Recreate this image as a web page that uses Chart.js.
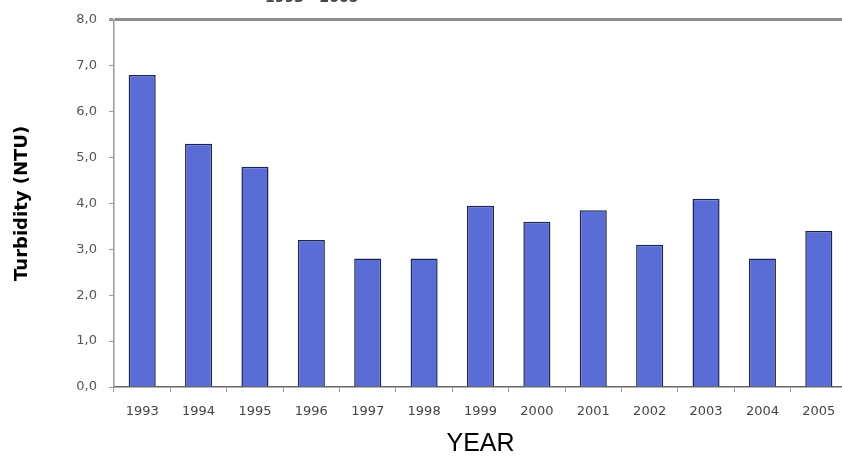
<!DOCTYPE html>
<html>
<head>
<meta charset="utf-8">
<script src="https://cdn.jsdelivr.net/npm/chart.js@4.4.0/dist/chart.umd.min.js"></script>
<style>
  html, body { margin: 0; padding: 0; background: #fff; overflow: hidden; }
  #wrap { position: relative; width: 842px; height: 459px; overflow: hidden; }
  #box { position: absolute; left: 0; top: 0; width: 848px; height: 459px; }
  #title { position: absolute; left: 265px; top: -11px; font: bold 14px "DejaVu Sans", sans-serif; color: #444; }
</style>
</head>
<body>
<div id="wrap">
  <div id="box"><canvas id="graphCanvas"></canvas></div>
  <div id="title">1993 - 2005</div>
</div>
<script>
var years = ['1993', '1994', '1995', '1996', '1997', '1998', '1999', '2000', '2001', '2002', '2003', '2004', '2005'];
var turbidity = [6.8, 5.3, 4.8, 3.2, 2.8, 2.8, 3.95, 3.6, 3.85, 3.1, 4.1, 2.8, 3.4];
var yTicks = [0, 1, 2, 3, 4, 5, 6, 7, 8];

var ctx = document.getElementById('graphCanvas');

var data = {
  labels: years,
  datasets: [
    {
      label: 'Turbidity (NTU)',
      data: turbidity,
      backgroundColor: '#5a6cd6',
      borderColor: '#1c2452',
      borderWidth: 1.5,
      categoryPercentage: 1,
      barPercentage: 0.48
    }
  ]
};

var options = {
  responsive: false,
  animation: false,
  layout: { padding: { top: 16, right: 1, left: 0, bottom: 0 } },
  plugins: {
    legend: { display: false },
    tooltip: { enabled: false }
  },
  scales: {
    x: {
      grid: {
        offset: true,
        drawOnChartArea: false,
        tickLength: 5,
        color: '#999'
      },
      border: { color: '#666', width: 1.5 },
      ticks: {
        color: '#444',
        padding: 12,
        font: { family: 'DejaVu Sans', size: 13 }
      },
      title: {
        display: true,
        text: 'YEAR',
        color: '#000',
        padding: { top: 0, bottom: 0 },
        font: { family: 'Liberation Sans', size: 25 }
      },
      afterFit: function(scale) { scale.height = 72; }
    },
    y: {
      min: 0,
      max: 8,
      afterBuildTicks: function(scale) {
        scale.ticks = yTicks.map(function(v) { return { value: v }; });
      },
      grid: {
        tickLength: 5,
        color: function(c) { return c.tick && c.tick.value === 8 ? '#8c8c8c' : 'rgba(0,0,0,0)'; },
        lineWidth: function(c) { return c.tick && c.tick.value === 8 ? 3 : 1; },
        tickColor: '#999'
      },
      border: { color: '#999', width: 1.5 },
      ticks: {
        color: '#555',
        padding: 12,
        font: { family: 'DejaVu Sans', size: 13 },
        callback: function(v) { return v.toFixed(1).replace('.', ','); }
      },
      title: {
        display: true,
        text: 'Turbidity (NTU)',
        color: '#000',
        padding: { top: 12, bottom: 0 },
        font: { family: 'DejaVu Sans', size: 18, weight: 'bold' }
      },
      afterFit: function(scale) { scale.width = 114; }
    }
  }
};

ctx.width = 848;
ctx.height = 459;

var chart = new Chart(ctx, {
  type: 'bar',
  data: data,
  options: options
});
</script>
</body>
</html>
